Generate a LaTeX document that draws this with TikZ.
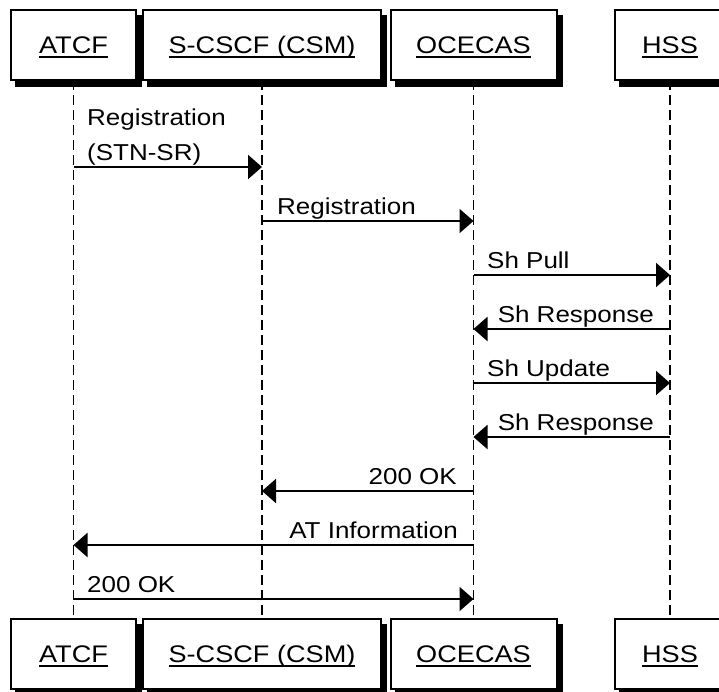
\documentclass[tikz,border=0pt]{standalone}
\usepackage{fontspec}
\setmainfont{Liberation Sans}
\usepackage{graphicx}
\usetikzlibrary{arrows.meta}

% slightly widened sans text
\newcommand{\hwide}[1]{\scalebox{1.13}[1]{#1}}
% underlined participant name
\newcommand{\ulabel}[1]{\leavevmode\setbox0=\hbox{\hwide{#1}}\rlap{\rule[-4.5bp]{\wd0}{2bp}}\box0}

\tikzset{
  headbox/.style={draw=black, line width=2bp, fill=white, minimum height=70bp, inner sep=0pt, outer sep=0pt},
  headshadow/.style={draw=black, line width=2bp, fill=black, minimum height=70bp, inner sep=0pt, outer sep=0pt},
  headtext/.style={anchor=base, inner sep=0pt, font=\fontsize{24bp}{28bp}\selectfont},
  lifeline/.style={line width=1.5bp, dash pattern=on 10bp off 5bp},
  msg/.style={line width=2bp, -{Triangle[length=14bp,width=24bp]}},
  msgtext/.style={inner sep=0pt, font=\fontsize{23bp}{28bp}\selectfont},
}

% #1 name, #2 x centre, #3 y centre, #4 width, #5 label
\newcommand{\participant}[5]{%
  \node[headshadow, minimum width=#4bp] (#1s) at (#2+5,#3+6) {};
  \node[headbox, minimum width=#4bp] (#1) at (#2,#3) {};
  \node[headtext] (#1t) at (#2,#3+8.6) {\ulabel{#5}};
}

\def\xA{73.5}
\def\xS{262}
\def\xO{473.5}
\def\xH{670}

\begin{document}
\begin{tikzpicture}[x=1bp, y=-1bp]
\useasboundingbox (0,0) rectangle (719,692);
\fill[white] (0,0) rectangle (719,692);

% participants, top row
\participant{atcfT}{\xA}{45}{124}{ATCF}
\participant{scscfT}{\xS}{45}{238}{S-CSCF (CSM)}
\participant{ocecasT}{\xO}{45}{166}{OCECAS}
\participant{hssT}{\xH}{45}{110}{HSS}

% participants, bottom row
\participant{atcfB}{\xA}{654}{124}{ATCF}
\participant{scscfB}{\xS}{654}{238}{S-CSCF (CSM)}
\participant{ocecasB}{\xO}{654}{166}{OCECAS}
\participant{hssB}{\xH}{654}{110}{HSS}

% lifelines
\draw[lifeline] (atcfT.south) -- (atcfB.north);
\draw[lifeline] (scscfT.south) -- (scscfB.north);
\draw[lifeline] (ocecasT.south) -- (ocecasB.north);
\draw[lifeline] (hssT.south) -- (hssB.north);

% message end points
\coordinate (m1a) at (\xA,167); \coordinate (m1b) at (\xS,167);
\coordinate (m2a) at (\xS,221); \coordinate (m2b) at (\xO,221);
\coordinate (m3a) at (\xO,275); \coordinate (m3b) at (\xH,275);
\coordinate (m4a) at (\xH,329); \coordinate (m4b) at (\xO,329);
\coordinate (m5a) at (\xO,383); \coordinate (m5b) at (\xH,383);
\coordinate (m6a) at (\xH,437); \coordinate (m6b) at (\xO,437);
\coordinate (m7a) at (\xO,491); \coordinate (m7b) at (\xS,491);
\coordinate (m8a) at (\xO,545); \coordinate (m8b) at (\xA,545);
\coordinate (m9a) at (\xA,599); \coordinate (m9b) at (\xO,599);

% messages
\draw[msg] (m1a) -- (m1b);
\draw[msg] (m2a) -- (m2b);
\draw[msg] (m3a) -- (m3b);
\draw[msg] (m4a) -- (m4b);
\draw[msg] (m5a) -- (m5b);
\draw[msg] (m6a) -- (m6b);
\draw[msg] (m7a) -- (m7b);
\draw[msg] (m8a) -- (m8b);
\draw[msg] (m9a) -- (m9b);

% message labels
\node[msgtext, anchor=base west] (l1a) at (87,126) {\hwide{Registration}};
\node[msgtext, anchor=base west] (l1b) at (87,160) {\hwide{(STN-SR)}};
\node[msgtext, anchor=base west] (l2) at (277,214) {\hwide{Registration}};
\node[msgtext, anchor=base west] (l3) at (487,268) {\hwide{Sh Pull}};
\node[msgtext, anchor=base east] (l4) at (654,322) {\hwide{Sh Response}};
\node[msgtext, anchor=base west] (l5) at (487,376) {\hwide{Sh Update}};
\node[msgtext, anchor=base east] (l6) at (654,430) {\hwide{Sh Response}};
\node[msgtext, anchor=base east] (l7) at (457,484) {\hwide{200 OK}};
\node[msgtext, anchor=base east] (l8) at (458,538) {\hwide{AT Information}};
\node[msgtext, anchor=base west] (l9) at (87,592) {\hwide{200 OK}};
\end{tikzpicture}
\end{document}
